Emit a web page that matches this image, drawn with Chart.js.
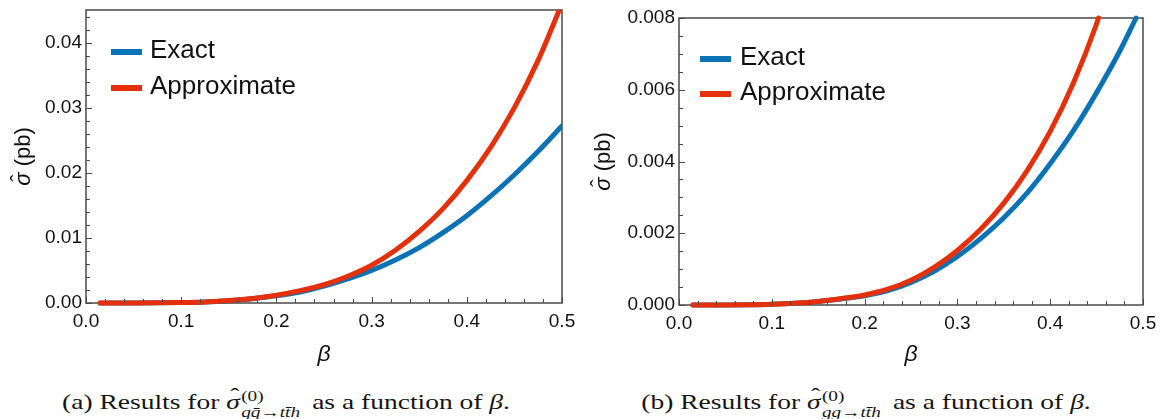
<!DOCTYPE html>
<html><head><meta charset="utf-8">
<script src="https://cdn.jsdelivr.net/npm/chart.js@4.4.1/dist/chart.umd.min.js"></script>
<style>
html,body{margin:0;padding:0;background:#fff;width:1164px;height:419px;overflow:hidden;position:relative}
.box{position:absolute;top:0}
.cap{position:absolute;top:388px;font-family:"Liberation Serif","DejaVu Serif",serif;font-size:21px;color:#151515;white-space:nowrap;line-height:1;
     transform:translateX(-50%) scaleX(1.31);transform-origin:50% 50%}
.ss{display:inline-flex;flex-direction:column;font-size:0.7em;line-height:1.1;vertical-align:0.55em;margin-left:1px;margin-right:4px}
.h{position:relative;display:inline-block;font-style:italic}
.h b{position:absolute;left:0.14em;top:-0.28em;font-weight:normal;font-style:normal}
</style></head><body>
<div class="box" style="left:0"><canvas id="ca" width="580" height="370"></canvas></div>
<div class="box" style="left:580px"><canvas id="cb" width="584" height="370"></canvas></div>
<div class="cap" style="left:286px">(a) Results for <span class="h">σ<b>ˆ</b></span><span class="ss"><span>(0)</span><span><i>q</i><i>q̄</i>→<i>t</i><i>t̄</i><i>h</i></span></span> as a function of <i>β</i>.</div>
<div class="cap" style="left:866px">(b) Results for <span class="h">σ<b>ˆ</b></span><span class="ss"><span>(0)</span><span><i>g</i><i>g</i>→<i>t</i><i>t̄</i><i>h</i></span></span> as a function of <i>β</i>.</div>
<script>
// ---- data ----
const seriesNames = ['Exact', 'Approximate'];
const betaA   = [0.015,0.05,0.075,0.1,0.125,0.15,0.175,0.2,0.225,0.25,0.275,0.3,0.325,0.35,0.375,0.4,0.425,0.45,0.475,0.5];
const exactA  = [0,0.000004,0.00002,0.00007,0.00017,0.00036,0.00065,0.0011,0.0017,0.0026,0.0037,0.0050,0.0066,0.0085,0.0108,0.0134,0.0164,0.0197,0.0233,0.0272];
const approxA = [0,0.000004,0.00002,0.00007,0.00017,0.00037,0.0007,0.0012,0.0019,0.0028,0.0041,0.0058,0.0081,0.0110,0.0145,0.0188,0.0239,0.0300,0.0373,0.0460];
const betaExactB  = [0.015,0.05,0.075,0.1,0.125,0.15,0.175,0.2,0.225,0.25,0.275,0.3,0.325,0.35,0.375,0.4,0.425,0.45,0.475,0.4925];
const exactB      = [0,0.000001,0.000006,0.00002,0.00005,0.0001,0.00017,0.00026,0.00040,0.00063,0.00094,0.00135,0.00185,0.00243,0.00312,0.00394,0.00486,0.00592,0.00708,0.0080];
const betaApproxB = [0.015,0.05,0.075,0.1,0.125,0.15,0.175,0.2,0.225,0.25,0.275,0.3,0.325,0.35,0.375,0.4,0.425,0.45,0.452];
const approxB     = [0,0.000001,0.000006,0.00002,0.00005,0.0001,0.00018,0.00028,0.00044,0.00069,0.00105,0.00152,0.00211,0.00284,0.00374,0.00484,0.00619,0.00784,0.0080];
const xTickLabels  = ['0.0','0.1','0.2','0.3','0.4','0.5'];
const yTickLabelsA = ['0.00','0.01','0.02','0.03','0.04'];
const yTickLabelsB = ['0.000','0.002','0.004','0.006','0.008'];
const xTitle = 'β';
const yTitleSymbol = 'σ', yTitleHat = 'ˆ', yTitleUnit = ' (pb)';

// ---- styles ----
const BLUE = '#0b72b5', RED = '#e5300c', FRAME = '#4a4a4a', TXT = '#111';
const FONT = '"Liberation Sans", Arial, sans-serif';

const frameTicks = {
  id: 'frameTicks',
  beforeDatasetsDraw(chart) {
    const {ctx, chartArea: a} = chart;
    ctx.save();
    ctx.strokeStyle = FRAME; ctx.lineWidth = 1.5;
    ctx.strokeRect(a.left, a.top, a.right - a.left, a.bottom - a.top);
    ctx.restore();
  },
  afterDatasetsDraw(chart, args, o) {
    const {ctx, chartArea: a, scales: {x, y}} = chart;
    ctx.save();
    ctx.strokeStyle = FRAME; ctx.lineWidth = 1;
    ctx.beginPath();
    const xs = x.ticks.map(t => t.value), ys = y.ticks.map(t => t.value);
    const isMajor = (arr, v) => arr.some(m => Math.abs(m - v) < 1e-9);
    for (let k = 0; ; k++) {
      const v = x.min + k * o.xMinor; if (v > x.max + 1e-9) break;
      const px = Math.round(x.getPixelForValue(v)) + 0.5;
      const L = isMajor(xs, +v.toFixed(6)) ? 6 : 4;
      ctx.moveTo(px, a.bottom); ctx.lineTo(px, a.bottom - L);
    }
    for (let k = 0; ; k++) {
      const v = y.min + k * o.yMinor; if (v > y.max + 1e-12) break;
      const py = Math.round(y.getPixelForValue(v)) + 0.5;
      const L = isMajor(ys, +v.toFixed(7)) ? 6 : 4;
      ctx.moveTo(a.left, py); ctx.lineTo(a.left + L, py);
    }
    ctx.stroke();
    ctx.restore();
  }
};

// y-axis title with a hat over the italic sigma
const yTitlePlugin = {
  id: 'yTitlePlugin',
  afterDraw(chart, args, o) {
    const {ctx, chartArea: a} = chart;
    ctx.save();
    ctx.translate(o.x, (a.top + a.bottom) / 2);
    ctx.rotate(-Math.PI / 2);
    ctx.fillStyle = TXT; ctx.textBaseline = 'alphabetic';
    const fI = 'italic 22px ' + FONT, fN = '22px ' + FONT;
    ctx.font = fI; const wS = ctx.measureText(yTitleSymbol).width;
    ctx.font = fN; const wU = ctx.measureText(yTitleUnit).width;
    const x0 = -(wS + wU) / 2, base = 8;
    ctx.font = fI; ctx.fillText(yTitleSymbol, x0, base);
    ctx.font = fN; ctx.textAlign = 'center'; ctx.fillText(yTitleHat, x0 + wS / 2 + 1, base - 4);
    ctx.textAlign = 'left'; ctx.fillText(yTitleUnit, x0 + wS, base);
    ctx.restore();
  }
};

const inLegend = {
  id: 'inLegend',
  afterDatasetsDraw(chart, args, o) {
    const {ctx, chartArea: a} = chart;
    ctx.save();
    ctx.font = '26px ' + FONT; ctx.textBaseline = 'middle'; ctx.fillStyle = TXT;
    chart.data.datasets.forEach((ds, i) => {
      const yy = a.top + o.top + i * o.gap;
      ctx.strokeStyle = ds.borderColor; ctx.lineWidth = 6; ctx.lineCap = 'butt';
      ctx.beginPath(); ctx.moveTo(a.left + o.left, yy); ctx.lineTo(a.left + o.left + 31, yy); ctx.stroke();
      ctx.fillText(ds.label, a.left + o.left + 31 + o.textGap, yy - 1);
    });
    ctx.restore();
  }
};

function pts(xs, ys) { return xs.map((b, i) => ({x: b, y: ys[i]})); }

function makeChart(id, ex, ap, cfg) {
  return new Chart(document.getElementById(id), {
    type: 'line',
    data: {datasets: [
      {label: seriesNames[0], data: ex, borderColor: BLUE, order: 1, clip: cfg.clip},
      {label: seriesNames[1], data: ap, borderColor: RED, order: 0, clip: cfg.clip}
    ]},
    options: {
      responsive: false, animation: false, devicePixelRatio: 1,
      layout: {padding: cfg.padding},
      plugins: {legend: {display: false}, tooltip: {enabled: false},
        frameTicks: {xMinor: 0.02, yMinor: cfg.yMinor},
        yTitlePlugin: {x: 22},
        inLegend: cfg.legend},
      elements: {point: {radius: 0}, line: {borderWidth: 5, cubicInterpolationMode: 'monotone', borderCapStyle: 'round', borderJoinStyle: 'round', fill: false}},
      scales: {
        x: {type: 'linear', min: 0, max: 0.5,
          grid: {display: false, drawTicks: false}, border: {display: false},
          ticks: {stepSize: 0.1, includeBounds: false, padding: 7, color: TXT, font: {family: FONT, size: 19}, maxRotation: 0,
            callback: (v, i) => xTickLabels[i]},
          title: {display: true, text: xTitle, color: TXT, font: {family: FONT, size: 23, style: 'italic'}, padding: {top: 0, bottom: 2}},
          afterFit(s) { s.height = cfg.xH; s.paddingLeft = s.paddingRight = s.paddingTop = s.paddingBottom = 0; }},
        y: {type: 'linear', min: 0, max: cfg.yMax,
          grid: {display: false, drawTicks: false}, border: {display: false},
          ticks: {stepSize: cfg.yStep, includeBounds: false, padding: 4, color: TXT, font: {family: FONT, size: 19},
            callback: (v, i) => cfg.yLabels[i]},
          title: {display: false},
          afterFit(s) { s.width = cfg.yW; s.paddingLeft = s.paddingRight = s.paddingTop = s.paddingBottom = 0; }}
      }
    },
    plugins: [frameTicks, yTitlePlugin, inLegend]
  });
}

makeChart('ca', pts(betaA, exactA), pts(betaA, approxA), {
  padding: {left: 0, right: 18, top: 10, bottom: 0}, xH: 67, yW: 86,
  yMax: 0.045, yStep: 0.01, yMinor: 0.002, yLabels: yTickLabelsA,
  clip: {left: 6, right: 0, top: 0, bottom: 6},
  legend: {left: 25, top: 42, gap: 36, textGap: 8}
});
makeChart('cb', pts(betaExactB, exactB), pts(betaApproxB, approxB), {
  padding: {left: 0, right: 21, top: 18, bottom: 0}, xH: 65, yW: 99,
  yMax: 0.008, yStep: 0.002, yMinor: 0.0005, yLabels: yTickLabelsB,
  clip: {left: 6, right: 0, top: 3, bottom: 6},
  legend: {left: 21, top: 41, gap: 35, textGap: 9}
});
</script>
</body></html>
